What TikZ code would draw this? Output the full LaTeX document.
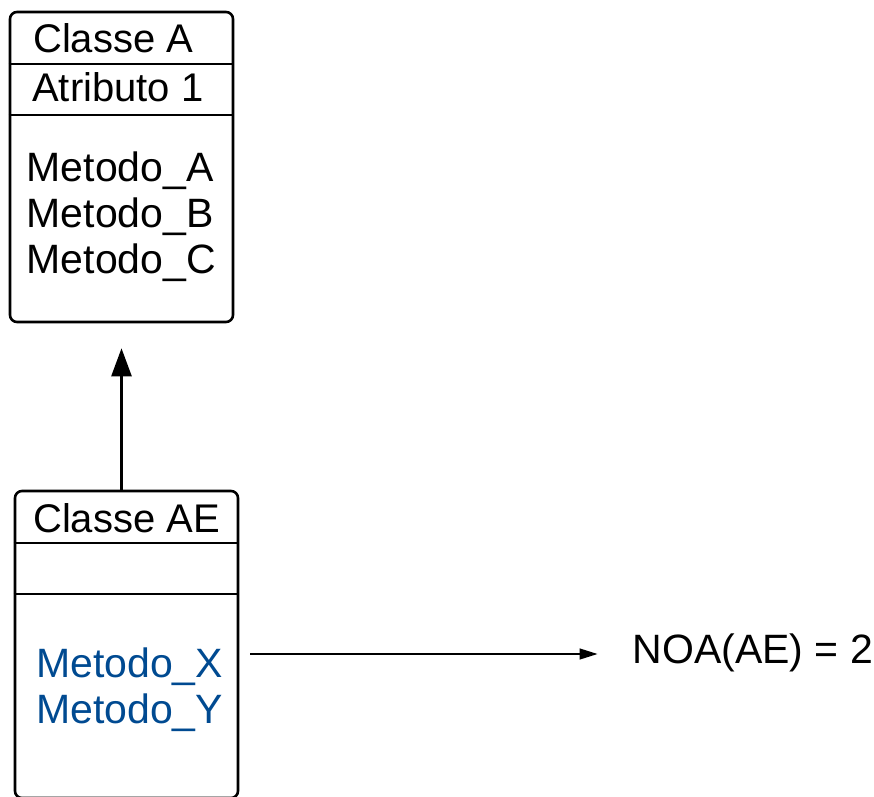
\documentclass[tikz,border=0pt]{standalone}
\usepackage{fontspec}
\setmainfont{Liberation Sans}
\usetikzlibrary{arrows.meta}
\definecolor{methblue}{RGB}{0,74,145}
\begin{document}
\begin{tikzpicture}[x=1pt,y=1pt,
  classbox/.style={draw, line width=2.6pt, rounded corners=7pt, inner sep=0pt,
                   minimum width=223pt},
  lbl/.style={inner sep=0pt, anchor=base west, font=\fontsize{41}{47}\selectfont},
  head/.style={lbl, font=\fontsize{40}{46}\selectfont},
  divider/.style={line width=2.6pt}]
\useasboundingbox (0,0) rectangle (874,796);
\clip (0,0) rectangle (874,796);

% class A
\node[classbox, minimum height=310pt] (A) at (121.5,629) {};
\draw[divider] (A.west |- 0,732) -- (A.east |- 0,732);
\draw[divider] (A.west |- 0,681) -- (A.east |- 0,681);
\node[head] (an) at (33,743) {Classe A};
\node[head] (aa) at (32,694) {Atributo 1};
\node[lbl] (ma) at (26.5,614) {Metodo\_A};
\node[lbl] (mb) at (26.5,568) {Metodo\_B};
\node[lbl] (mc) at (26.5,522) {Metodo\_C};

% class AE
\node[classbox, minimum height=307pt] (AE) at (126.5,151.5) {};
\draw[divider] (AE.west |- 0,253) -- (AE.east |- 0,253);
\draw[divider] (AE.west |- 0,202) -- (AE.east |- 0,202);
\node[head] (aen) at (33,264) {Classe AE};
\node[lbl, text=methblue] (mx) at (36,119) {Metodo\_X};
\node[lbl, text=methblue] (my) at (36,73) {Metodo\_Y};

% result
\node[lbl] (noa) at (632.5,133) {NOA(AE) = 2};

% inheritance arrow
\coordinate (vx) at (121.5,0);
\draw[line width=2.6pt, -{Triangle[length=28pt,width=20pt]}, shorten >=25pt]
  (AE.north -| vx) -- (A.south -| vx);

% metric arrow
\coordinate (hy) at (0,142);
\draw[line width=1.3pt, -{Triangle[length=18pt,width=11pt]},
      shorten <=11pt, shorten >=35pt]
  (AE.east |- hy) -- (noa.west |- hy);
\end{tikzpicture}
\end{document}
